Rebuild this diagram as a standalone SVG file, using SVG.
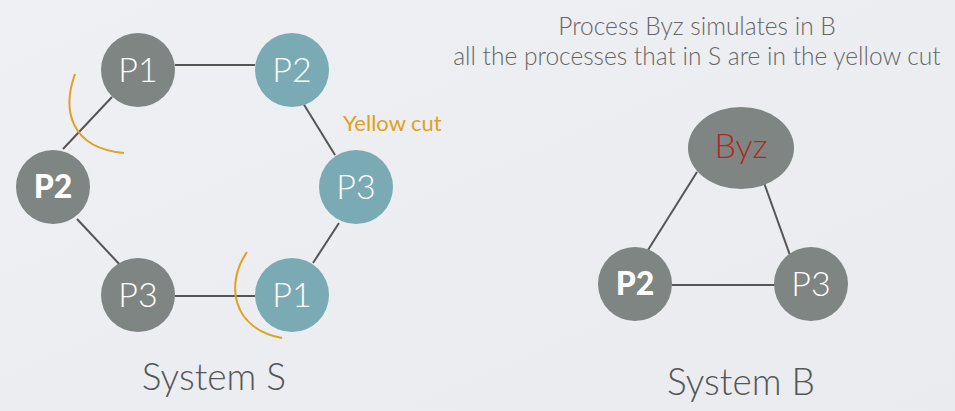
<svg xmlns="http://www.w3.org/2000/svg" width="955" height="411" viewBox="0 0 955 411">
<defs>
<linearGradient id="bg" x1="0" y1="0" x2="1" y2="1">
<stop offset="0" stop-color="#eef0f4"/>
<stop offset="1" stop-color="#e9ebee"/>
</linearGradient>
<style>
.gray{fill:#7f8582}
.teal{fill:#7aabb4}
.lbl{font-family:Lato,"Open Sans",sans-serif;font-weight:300;font-size:34px;fill:#ffffff;text-anchor:middle}
.bold{font-weight:900;font-size:32px}
.edge{stroke:#555555;stroke-width:2;fill:none}
.cut{stroke:#e0a020;stroke-width:2;fill:none}
.cap{font-family:Lato,"Open Sans",sans-serif;font-weight:300;font-size:37px;fill:#555555;text-anchor:middle}
.title{font-family:Lato,"Open Sans",sans-serif;font-weight:300;font-size:24.5px;fill:#666666;text-anchor:middle}
</style>
</defs>
<rect width="955" height="411" fill="url(#bg)"/>
<g id="connectors">
<line class="edge" x1="175" y1="65" x2="255" y2="65"/>
<line class="edge" x1="112" y1="97" x2="63" y2="149"/>
<line class="edge" x1="303" y1="103" x2="335" y2="155"/>
<line class="edge" x1="339" y1="223" x2="313" y2="263"/>
<line class="edge" x1="175" y1="296" x2="255" y2="296"/>
<line class="edge" x1="77" y1="219" x2="122" y2="267"/>
<line class="edge" x1="697" y1="172" x2="648" y2="250"/>
<line class="edge" x1="763" y1="180" x2="791" y2="258"/>
<line class="edge" x1="672" y1="285" x2="775" y2="285"/>
</g>
<g id="cuts">
<path class="cut" d="M75,74 C62,110 70,148 124,153"/>
<path class="cut" d="M247,252 C226,282 230,328 282,338"/>
<text x="343" y="131" font-family="Lato,'Open Sans',sans-serif" font-size="22" font-weight="400" fill="#e0a020">Yellow cut</text>
</g>
<g id="s-p1"><circle class="gray" cx="138" cy="70" r="37"/><text class="lbl" x="138" y="82">P1</text></g>
<g id="s-p2-teal"><circle class="teal" cx="292" cy="70" r="37"/><text class="lbl" x="292" y="82">P2</text></g>
<g id="s-p3-teal"><circle class="teal" cx="356" cy="187" r="37"/><text class="lbl" x="356" y="199">P3</text></g>
<g id="s-p1-teal"><circle class="teal" cx="292" cy="295" r="37"/><text class="lbl" x="292" y="307">P1</text></g>
<g id="s-p3"><circle class="gray" cx="138" cy="295" r="37"/><text class="lbl" x="138" y="307">P3</text></g>
<g id="s-p2"><circle class="gray" cx="53" cy="187" r="37"/><text class="lbl bold" x="53" y="198">P2</text></g>
<g id="b-byz"><ellipse class="gray" cx="741" cy="148" rx="53" ry="41"/><text class="lbl" x="741" y="158" style="fill:#b3271f">Byz</text></g>
<g id="b-p2"><circle class="gray" cx="635" cy="284" r="37"/><text class="lbl bold" x="635" y="295">P2</text></g>
<g id="b-p3"><circle class="gray" cx="811" cy="284" r="37"/><text class="lbl" x="811" y="296">P3</text></g>
<text class="cap" x="214" y="390">System S</text>
<text class="cap" x="741" y="395">System B</text>
<text class="title" x="697" y="35">Process Byz simulates in B</text>
<text class="title" x="697" y="65">all the processes that in S are in the yellow cut</text>
</svg>
